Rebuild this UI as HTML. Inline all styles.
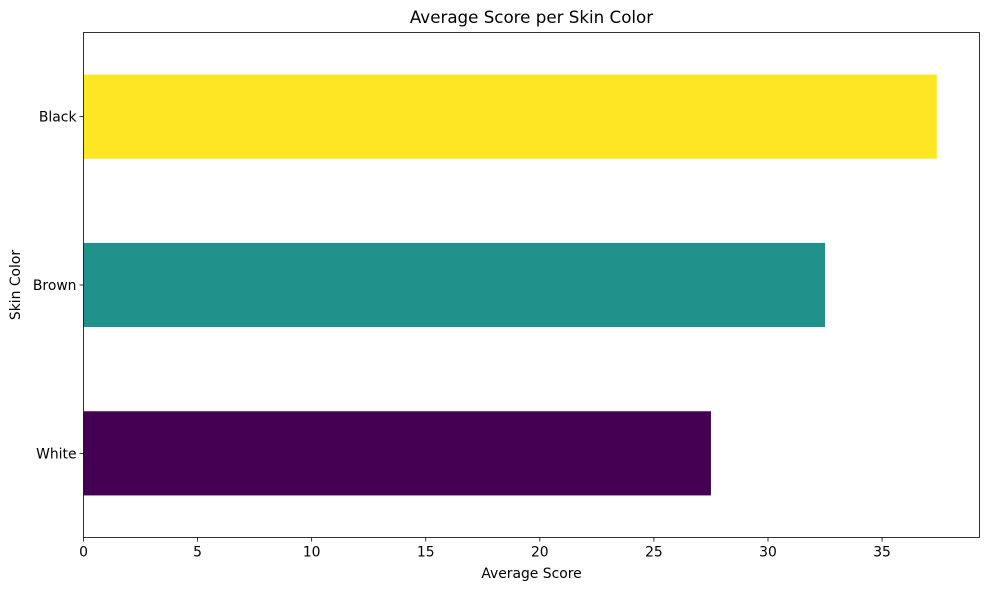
<!DOCTYPE html>
<html><head><meta charset="utf-8"><style>
body{margin:0;background:#fff;font-family:"Liberation Sans","DejaVu Sans",sans-serif;}
svg text{font-family:"DejaVu Sans","Liberation Sans",sans-serif;}
</style></head><body>
<svg id="chart" width="989" height="590" xmlns="http://www.w3.org/2000/svg"></svg>
<script>
const categories = ["White", "Brown", "Black"];
const values = [27.5, 32.5, 37.4];
const colors = ["#440154", "#21918c", "#fde725"];
const xTicks = [0, 5, 10, 15, 20, 25, 30, 35];

const svg = document.getElementById('chart');
const NS = 'http://www.w3.org/2000/svg';
const L = 83.5, R = 979.5, T = 32.5, B = 537.5;
const xMax = Math.max(...values) * 1.05;
const x = v => L + (v / xMax) * (R - L);
const n = categories.length;
const y = i => B - (B - T) * (i + 0.5) / n;
const bh = (B - T) / n * 0.5;
const FS = 13.9;

function el(tag, attrs, text) {
  const e = document.createElementNS(NS, tag);
  for (const k in attrs) e.setAttribute(k, attrs[k]);
  if (text !== undefined) e.textContent = text;
  svg.appendChild(e);
  return e;
}

values.forEach((v, i) => {
  const r = el('rect', {x: x(0), y: y(i) - bh / 2, width: x(v) - x(0), height: bh, fill: colors[i]});
  
  
  el('line', {x1: L - 4, x2: L, y1: y(i), y2: y(i), stroke: '#000', 'stroke-width': 0.8});
  const t = el('text', {x: L - 7, y: y(i) + 5, 'text-anchor': 'end', 'font-size': FS, fill: '#000'}, categories[i]);
  
  
});

xTicks.forEach(v => {
  el('line', {x1: x(v), x2: x(v), y1: B, y2: B + 4, stroke: '#000', 'stroke-width': 0.8});
  const t = el('text', {x: x(v), y: B + 19, 'text-anchor': 'middle', 'font-size': FS, fill: '#000'}, String(v));
  
  
});

const frame = el('rect', {x: L, y: T, width: R - L, height: B - T, fill: 'none', stroke: '#000', 'stroke-width': 0.8});



const title = el('text', {x: (L + R) / 2, y: 23, 'text-anchor': 'middle', 'font-size': 16.7, fill: '#000'}, 'Average Score per Skin Color');



const xt = el('text', {x: (L + R) / 2, y: 578, 'text-anchor': 'middle', 'font-size': FS, fill: '#000'}, 'Average Score');



const yt = el('text', {x: 20, y: (T + B) / 2, 'text-anchor': 'middle', 'font-size': FS, fill: '#000', transform: 'rotate(-90 20 ' + (T + B) / 2 + ')'}, 'Skin Color');


</script>
</body></html>
